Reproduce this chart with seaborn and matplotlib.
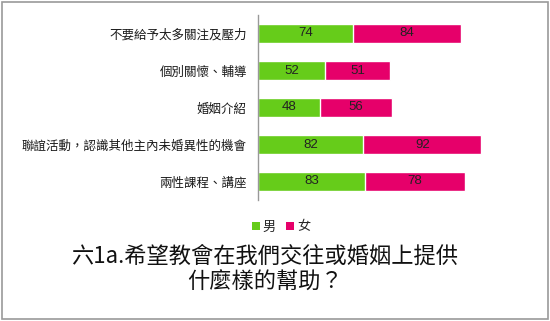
import matplotlib
matplotlib.use("Agg")
import matplotlib.pyplot as plt
import seaborn as sns
import pandas as pd
from matplotlib.patches import Rectangle, Patch

categories = ["不要給予太多關注及壓力", "個別關懷、輔導", "婚姻介紹",
              "聯誼活動，認識其他主內未婚異性的機會", "兩性課程、講座"]
male = [74, 52, 48, 82, 83]
female = [84, 51, 56, 92, 78]
series_names = ["男", "女"]
title = "六1a.希望教會在我們交往或婚姻上提供\n什麼樣的幫助？"

sns.set_theme(style="white")
plt.rcParams['font.family'] = ['Noto Sans CJK TC', 'DejaVu Sans']

green = "#66CC1A"
pink = "#E6006A"

df = pd.DataFrame({"cat": categories, "male": male, "female": female})
df["total"] = df["male"] + df["female"]

fig = plt.figure(figsize=(5.5, 3.21), dpi=100)
ax = fig.add_axes([258/550, 1 - 200/321, (540-258)/550, 185/321])

sns.barplot(data=df, y="cat", x="total", color=pink, saturation=1, width=0.52, ax=ax, orient="h")
sns.barplot(data=df, y="cat", x="male", color=green, saturation=1, width=0.52, ax=ax, orient="h")

for i, (m, f) in enumerate(zip(male, female)):
    ax.text(m / 2, i, str(m), ha="center", va="center", fontsize=9.5, color="#222222",
            family=["Liberation Sans", "DejaVu Sans"])
    ax.text(m + f / 2, i, str(f), ha="center", va="center", fontsize=9.5, color="#222222",
            family=["Liberation Sans", "DejaVu Sans"])

ax.set_xlim(0, 219.6)
ax.set_ylim(4.5, -0.5)
ax.set_xlabel("")
ax.set_ylabel("")
ax.set_xticks([])
ax.tick_params(axis="y", length=0, pad=8, labelsize=9, labelcolor="#1a1a1a")
for s in ["top", "right", "bottom"]:
    ax.spines[s].set_visible(False)
ax.spines["left"].set_color("#999999")
ax.spines["left"].set_linewidth(1)

handles = [Patch(facecolor=green, edgecolor="none"), Patch(facecolor=pink, edgecolor="none")]
fig.legend(handles, series_names, loc="center", bbox_to_anchor=(281/550, 1 - 227/321),
           ncol=2, frameon=False, fontsize=9.5, handlelength=0.6, handleheight=0.6,
           handletextpad=0.2, columnspacing=0.8)

fig.text(265/550, 1 - 269/321, title, ha="center", va="center", fontsize=16, color="#111111",
         linespacing=1.2)

fig.patches.append(Rectangle((2/550, 2/321), 546/550, 317/321, transform=fig.transFigure,
                             fill=False, edgecolor="#9a9a9a", linewidth=1.2))

fig.savefig("out.png", dpi=100)
